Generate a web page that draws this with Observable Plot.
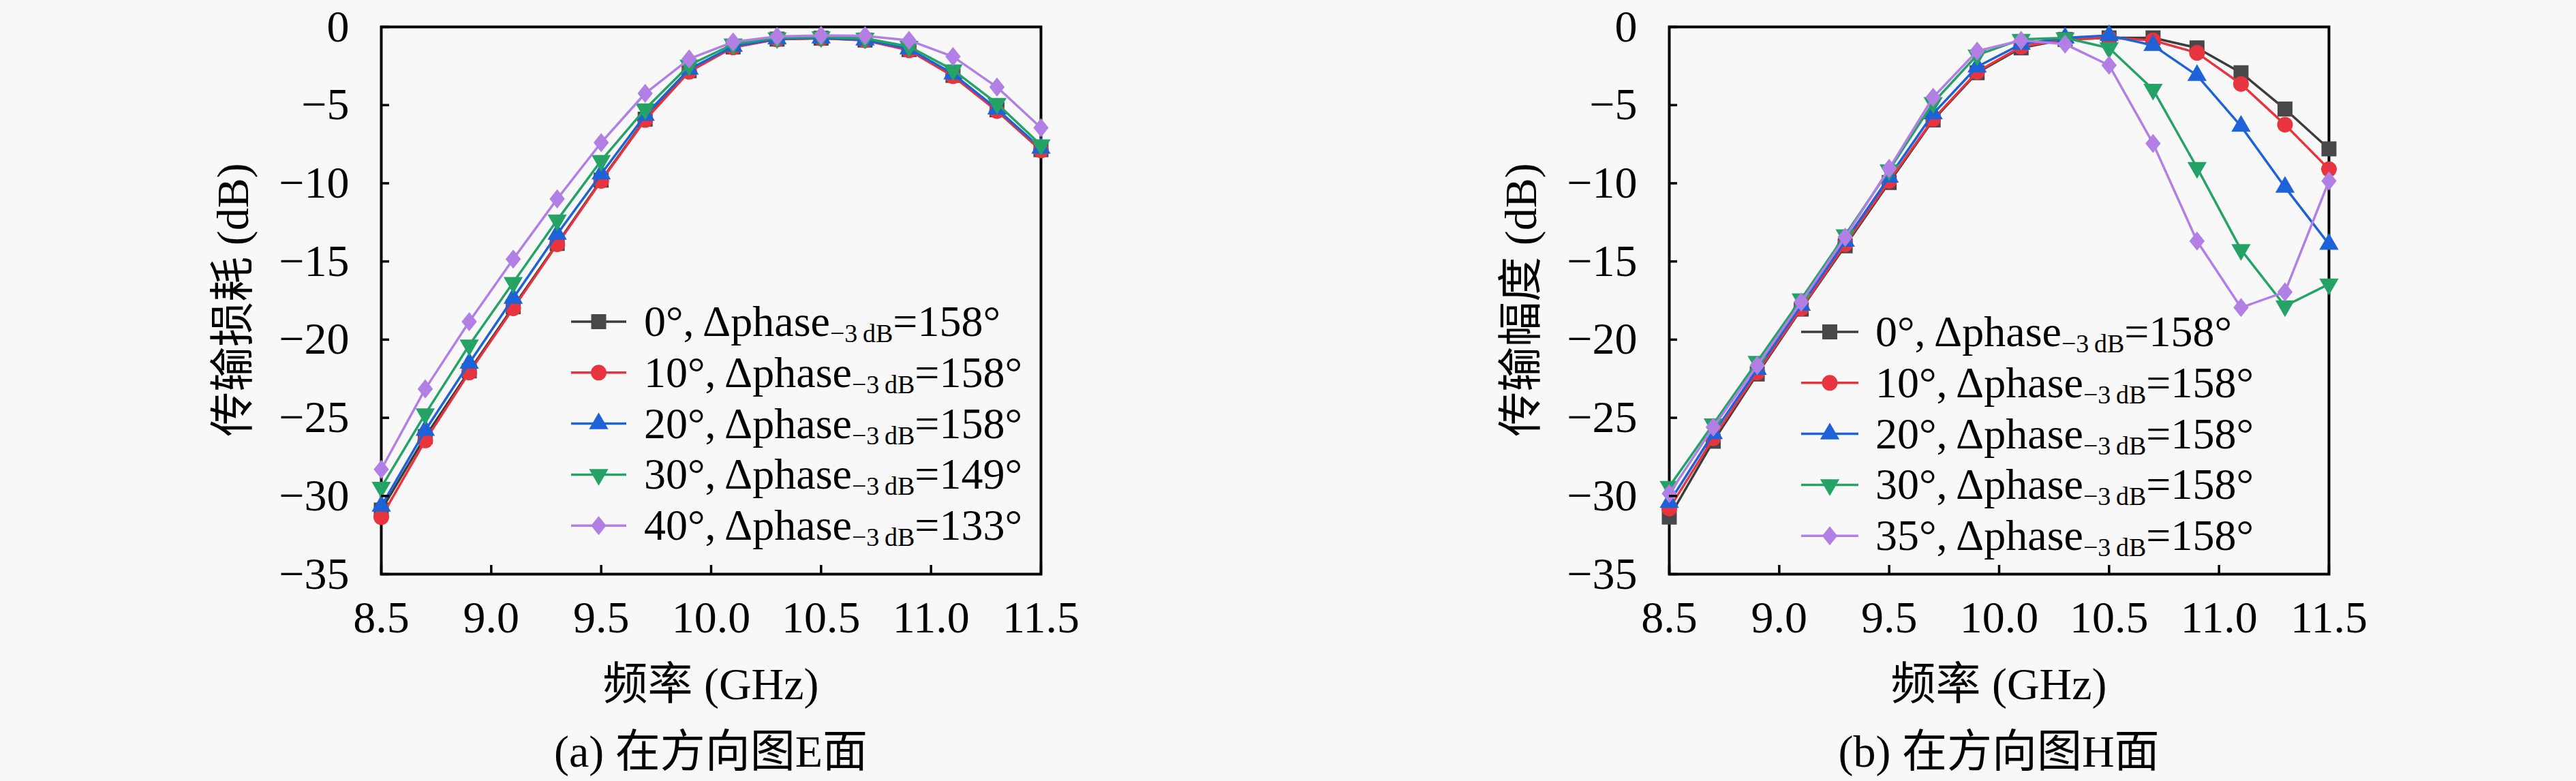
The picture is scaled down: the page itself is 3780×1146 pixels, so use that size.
<!DOCTYPE html>
<html><head><meta charset="utf-8">
<script src="https://cdn.jsdelivr.net/npm/d3@7"></script>
<script src="https://cdn.jsdelivr.net/npm/@observablehq/plot@0.6"></script>
<style>
html,body{margin:0;padding:0;background:#f8f8f8;}
body{width:3780px;height:1146px;overflow:hidden;position:relative;font-family:"Liberation Serif","Noto Sans CJK SC",serif;color:#000;}
.panel{position:absolute;top:0;width:1890px;height:1146px;}
.panel svg{position:absolute;left:0;top:0;}
</style>
</head><body>
<script>
// ---- data ----
const freq = [8.5, 8.7, 8.9, 9.1, 9.3, 9.5, 9.7, 9.9, 10.1, 10.3, 10.5, 10.7, 10.9, 11.1, 11.3, 11.5];
const xTicks = [8.5, 9.0, 9.5, 10.0, 10.5, 11.0, 11.5];
const yTicks = [0, -5, -10, -15, -20, -25, -30, -35];

// E plane (a)
const e0  = [-30.9, -26.2, -22.0, -17.9, -13.85, -9.8, -5.9, -2.8, -1.28, -0.78, -0.72, -0.84, -1.45, -3.1, -5.3, -7.85];
const e10 = [-31.35, -26.45, -22.1, -18.0, -13.9, -9.85, -5.95, -2.87, -1.31, -0.8, -0.73, -0.86, -1.5, -3.15, -5.38, -7.9];
const e20 = [-30.65, -25.8, -21.5, -17.35, -13.25, -9.4, -5.65, -2.7, -1.24, -0.76, -0.7, -0.83, -1.4, -3.0, -5.25, -7.75];
const e30 = [-29.45, -24.75, -20.35, -16.35, -12.35, -8.55, -5.25, -2.45, -1.1, -0.7, -0.64, -0.73, -1.25, -2.75, -4.9, -7.55];
const e40 = [-28.3, -23.15, -18.85, -14.85, -11.0, -7.4, -4.25, -2.05, -0.96, -0.61, -0.54, -0.57, -0.86, -1.9, -3.85, -6.45];
const eAngles = ["0°", "10°", "20°", "30°", "40°"];
const ePhase  = ["158°", "158°", "158°", "149°", "133°"];

// H plane (b)
const h0  = [-31.35, -26.5, -22.2, -18.05, -14.0, -9.95, -5.95, -2.93, -1.34, -0.8, -0.7, -0.7, -1.34, -2.93, -5.25, -7.8];
const h10 = [-30.8, -26.3, -22.1, -18.0, -13.9, -9.85, -5.9, -2.87, -1.27, -0.8, -0.7, -0.86, -1.66, -3.65, -6.25, -9.1];
const h20 = [-30.4, -26.0, -21.9, -17.8, -13.7, -9.6, -5.55, -2.55, -1.1, -0.7, -0.55, -1.18, -3.1, -6.35, -10.25, -13.9];
const h30 = [-29.4, -25.4, -21.4, -17.4, -13.3, -9.15, -4.85, -1.8, -0.8, -0.7, -1.35, -4.0, -9.0, -14.25, -17.85, -16.45];
const h35 = [-29.85, -25.6, -21.65, -17.6, -13.45, -9.05, -4.5, -1.55, -0.86, -1.1, -2.45, -7.45, -13.7, -17.95, -16.95, -9.85];
const hAngles = ["0°", "10°", "20°", "30°", "35°"];
const hPhase  = ["158°", "158°", "158°", "158°", "158°"];

// ---- styles ----
const colors = ["#484848", "#e8343e", "#1d62d6", "#25a366", "#b27fe4"];
const lineColors = ["#3c3c3c", "#e8343e", "#1d62d6", "#25a366", "#b27fe4"];
const triangleDown = {
  draw(context, size) {
    const s3 = Math.sqrt(3);
    const y = -Math.sqrt(size / (s3 * 3));
    context.moveTo(0, -y * 2);
    context.lineTo(-s3 * y, y);
    context.lineTo(s3 * y, y);
    context.closePath();
  }
};
const diamond = {
  draw(context, size) {
    const h = Math.sqrt(size / 1.6), w = 0.8 * h;
    context.moveTo(0, -h);
    context.lineTo(w, 0);
    context.lineTo(0, h);
    context.lineTo(-w, 0);
    context.closePath();
  }
};
const symbols = [d3.symbolSquare, d3.symbolCircle, d3.symbolTriangle, triangleDown, diamond];
const radii = [12.4, 11.5, 10.5, 10.5, 10];
const FONT = "'Liberation Serif','Noto Sans CJK SC',serif";
const fmtY = d => (d < 0 ? "\u2212" : "") + Math.abs(d);

function panel(left, yLabel, caption, seriesVals, angles, phases, leg) {
  const div = document.createElement("div");
  div.className = "panel";
  div.style.left = left + "px";
  document.body.appendChild(div);

  const marks = [Plot.frame({stroke: "black", strokeWidth: 4})];
  seriesVals.forEach((vals, k) => {
    const d = freq.map((f, i) => ({f, v: vals[i]}));
    marks.push(Plot.line(d, {x: "f", y: "v", stroke: lineColors[k], strokeWidth: 3.5}));
    marks.push(Plot.dot(d, {x: "f", y: "v", fill: colors[k], stroke: "none", symbol: symbols[k], r: radii[k]}));
  });
  marks.push(Plot.axisX({ticks: xTicks, tickSize: -13, tickPadding: 52, tickFormat: d3.format(".1f"),
    fontSize: 66, strokeWidth: 3.5, label: null}));
  marks.push(Plot.axisY({ticks: yTicks, tickSize: -12, tickPadding: 59, tickFormat: fmtY,
    fontSize: 66, strokeWidth: 3.5, label: null}));

  const plot = Plot.plot({
    width: 1890, height: 960,
    marginLeft: 559, marginRight: 363, marginTop: 39, marginBottom: 118,
    x: {domain: [8.5, 11.5]},
    y: {domain: [-35, 0]},
    style: {background: "transparent", fontFamily: FONT, color: "black", overflow: "visible"},
    marks
  });
  div.appendChild(plot);

  // overlay: axis titles, caption, legend
  const ov = d3.select(div).append("svg")
    .attr("width", 1890).attr("height", 1146)
    .style("font-family", FONT).style("overflow", "visible");
  ov.append("text").attr("x", 1043).attr("y", 1026).attr("text-anchor", "middle")
    .attr("font-size", 66).text("频率 (GHz)");
  ov.append("text").attr("x", 1043).attr("y", 1125).attr("text-anchor", "middle")
    .attr("font-size", 66).text(caption);
  ov.append("text").attr("transform", "translate(364,440) rotate(-90)").attr("text-anchor", "middle")
    .attr("font-size", 66).text(yLabel);

  angles.forEach((a, k) => {
    const cy = leg.y0 + k * 74.8;
    const g = ov.append("g");
    g.append("line").attr("x1", leg.x1).attr("x2", leg.x2).attr("y1", cy).attr("y2", cy)
      .attr("stroke", lineColors[k]).attr("stroke-width", 3.5);
    g.append("path").attr("transform", `translate(${(leg.x1 + leg.x2) / 2},${cy})`)
      .attr("d", d3.symbol(symbols[k], Math.PI * radii[k] * radii[k])()).attr("fill", colors[k]);
    const t = g.append("text").attr("x", leg.tx).attr("y", cy + 21).attr("font-size", 64);
    t.append("tspan").text(`${a}, Δphase`);
    t.append("tspan").attr("font-size", 38).attr("dy", 9).text("\u22123\u2009dB");
    t.append("tspan").attr("dy", -9).text(`=${phases[k]}`);
  });
}

panel(0, "传输损耗 (dB)", "(a) 在方向图E面", [e0, e10, e20, e30, e40], eAngles, ePhase,
  {y0: 472, x1: 838, x2: 919, tx: 945});
panel(1890, "传输幅度 (dB)", "(b) 在方向图H面", [h0, h10, h20, h30, h35], hAngles, hPhase,
  {y0: 487, x1: 753, x2: 837, tx: 862});
</script>
</body></html>
